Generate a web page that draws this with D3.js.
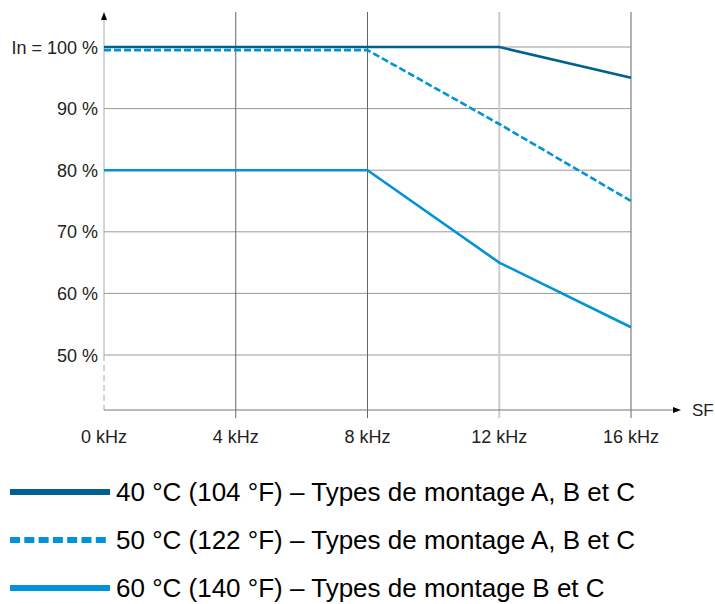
<!DOCTYPE html>
<html><head><meta charset="utf-8">
<script src="https://cdn.jsdelivr.net/npm/d3@7"></script>
<style>body{margin:0;background:#fff}svg{display:block}</style>
</head><body>
<script>
const freqs = [0, 4, 8, 12, 16];
const xTickLabels = ["0 kHz", "4 kHz", "8 kHz", "12 kHz", "16 kHz"];
const yTicks = [50, 60, 70, 80, 90, 100];
const yTickLabels = ["50 %", "60 %", "70 %", "80 %", "90 %", "In = 100 %"];
const s40 = [100, 100, 100, 100, 95];
const s50 = [99.5, 99.5, 99.5, 87.5, 75];
const s60 = [80, 80, 80, 65, 54.5];
const seriesNames = ["40 °C (104 °F) – Types de montage A, B et C",
                     "50 °C (122 °F) – Types de montage A, B et C",
                     "60 °C (140 °F) – Types de montage B et C"];

const W = 715, H = 604;
const svg = d3.select("body").append("svg").attr("width", W).attr("height", H);
const x = d3.scaleLinear().domain([0, 16]).range([104, 631]);
const y = d3.scaleLinear().domain([50, 100]).range([355, 47]);
const yBase = 410, yTop = 12;
const font = "Liberation Sans, Arial, sans-serif";

// horizontal gridlines
svg.append("g").selectAll("line").data(yTicks).join("line")
  .attr("x1", x(0)).attr("x2", x(16)).attr("y1", d => y(d)).attr("y2", d => y(d))
  .attr("stroke", "#999").attr("stroke-width", 1);
// vertical gridlines
svg.append("g").selectAll("line").data(freqs.slice(1)).join("line")
  .attr("x1", d => x(d)).attr("x2", d => x(d)).attr("y1", yTop).attr("y2", yBase + 8)
  .attr("stroke", d => d === 12 ? "#ccc" : "#666").attr("stroke-width", d => d === 12 ? 2 : 1);

// y axis
svg.append("line").attr("x1", x(0)).attr("x2", x(0)).attr("y1", y(50)).attr("y2", yBase)
  .attr("stroke", "#aaa").attr("stroke-dasharray", "6,4");
svg.append("line").attr("x1", x(0)).attr("x2", x(0)).attr("y1", y(50)).attr("y2", yTop + 6)
  .attr("stroke", "#aaa");
svg.append("path").attr("d", `M${x(0)-3},${yTop+8}L${x(0)},${yTop}L${x(0)+3},${yTop+8}Z`).attr("fill", "#000");
// x axis
svg.append("line").attr("x1", x(0)).attr("x2", 675).attr("y1", yBase).attr("y2", yBase)
  .attr("stroke", "#777");
svg.append("path").attr("d", `M673,${yBase-3}L681,${yBase}L673,${yBase+3}Z`).attr("fill", "#000");
svg.append("text").attr("x", 692).attr("y", yBase + 6).text("SF")
  .attr("font-family", font).attr("font-size", 17).attr("fill", "#222");

// tick labels
svg.append("g").selectAll("text").data(yTicks).join("text")
  .attr("x", 98).attr("y", d => y(d) + 6.5).attr("text-anchor", "end")
  .attr("font-family", font).attr("font-size", 18).attr("fill", "#222")
  .text((d, i) => yTickLabels[i]);
svg.append("g").selectAll("text").data(freqs).join("text")
  .attr("x", d => x(d)).attr("y", 443).attr("text-anchor", "middle")
  .attr("font-family", font).attr("font-size", 18).attr("fill", "#222")
  .text((d, i) => xTickLabels[i]);

const dark = "#00608f", light = "#0093d8";
const line = d3.line().x((d, i) => x(freqs[i])).y(d => y(d));
const series = [
  {vals: s40, color: dark, dash: null},
  {vals: s50, color: light, dash: "7,3"},
  {vals: s60, color: light, dash: null}
];
series.slice().reverse().forEach(s => {
  svg.append("path").attr("d", line(s.vals)).attr("fill", "none")
    .attr("stroke", s.color).attr("stroke-width", 2.6)
    .attr("stroke-dasharray", s.dash);
});

// legend
const ly = [492, 540, 588];
series.forEach((s, i) => {
  svg.append("line").attr("x1", 10).attr("x2", 110).attr("y1", ly[i]).attr("y2", ly[i])
    .attr("stroke", s.color).attr("stroke-width", 6).attr("stroke-dasharray", s.dash ? "10,4.3" : null);
  svg.append("text").attr("x", 116).attr("y", ly[i] + 9.3).text(seriesNames[i])
    .attr("font-family", font).attr("font-size", 26).attr("fill", "#000");
});
</script>
</body></html>
